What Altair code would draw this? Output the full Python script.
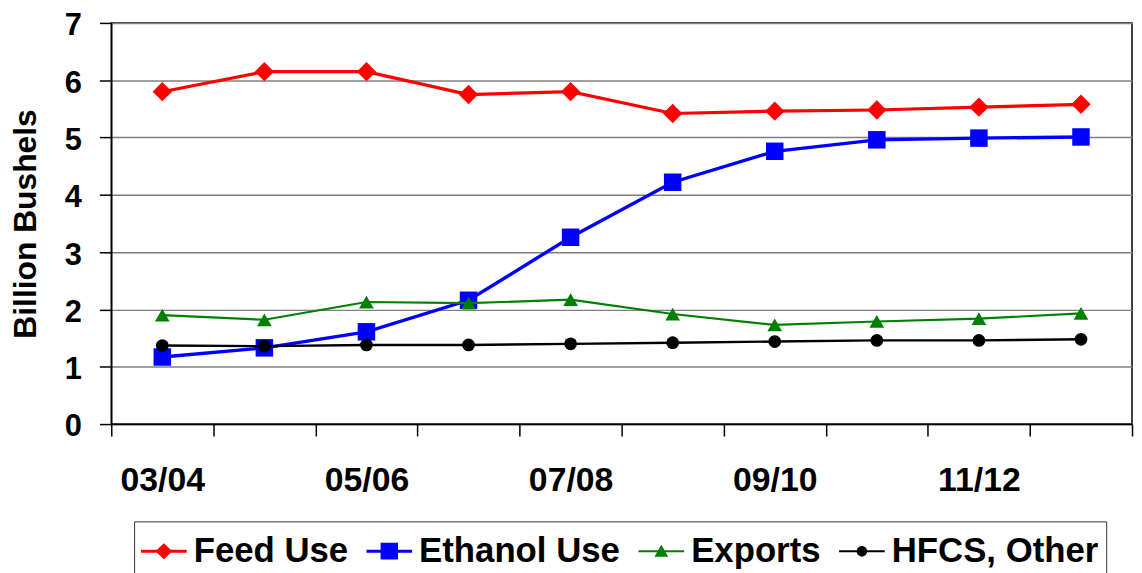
import json
import altair as alt
import pandas as pd

# ---- data ----
years = ["03/04", "04/05", "05/06", "06/07", "07/08", "08/09", "09/10", "10/11", "11/12", "12/13"]
shown_labels = ["03/04", "05/06", "07/08", "09/10", "11/12"]
series_names = ["Feed Use", "Ethanol Use", "Exports", "HFCS, Other"]
feed = [5.80, 6.15, 6.15, 5.75, 5.80, 5.42, 5.46, 5.48, 5.53, 5.58]
ethanol = [1.17, 1.33, 1.61, 2.16, 3.26, 4.22, 4.76, 4.96, 4.99, 5.01]
exports = [1.90, 1.82, 2.13, 2.11, 2.17, 1.92, 1.73, 1.79, 1.84, 1.93]
hfcs = [1.37, 1.36, 1.38, 1.38, 1.40, 1.42, 1.44, 1.46, 1.46, 1.48]
y_ticks = [0, 1, 2, 3, 4, 5, 6, 7]

# ---- styles ----
colors = ["#FF0000", "#0000FF", "#008000", "#000000"]
line_widths = [3.2, 3.4, 2.2, 2.4]
marker_shapes = ["diamond", "square", "triangle-up", "circle"]
marker_sizes = [380, 310, 220, 165]
legend_paths = [
    "M-1,-0.065H1V0.065H-1Z M0,-0.35L0.37,0L0,0.35L-0.37,0Z",
    "M-1,-0.065H1V0.065H-1Z M-0.38,-0.37H0.38V0.37H-0.38Z",
    "M-1,-0.045H1V0.045H-1Z M0,-0.28L0.3,0.24H-0.3Z",
    "M-1,-0.045H1V0.045H-1Z M0.23,0A0.23,0.23 0 1,1 -0.23,0A0.23,0.23 0 1,1 0.23,0Z",
]
FONT = "Liberation Sans"

rows = []
for name, vals in zip(series_names, [feed, ethanol, exports, hfcs]):
    for yr, v in zip(years, vals):
        rows.append({"year": yr, "series": name, "value": v})
df = pd.DataFrame(rows)

label_expr = "indexof(" + json.dumps(shown_labels) + ", datum.value) >= 0 ? datum.value : ''"

x_enc = alt.X(
    "year:N",
    sort=years,
    scale=alt.Scale(type="band", domain=years, paddingInner=0, paddingOuter=0),
    axis=alt.Axis(
        title=None, tickBand="extent", labelExpr=label_expr, labelAngle=0,
        labelFont=FONT, labelFontSize=34, labelFontWeight="bold", labelColor="black",
        labelPadding=28, tickSize=12, tickColor="black", tickWidth=1.5,
        domainColor="black", domainWidth=1.5, grid=False,
    ),
)
y_enc = alt.Y(
    "value:Q",
    scale=alt.Scale(domain=[0, 7], nice=False, zero=True),
    axis=alt.Axis(
        title="Billion Bushels", values=y_ticks, format="d",
        titleFont=FONT, titleFontSize=32, titleFontWeight="bold", titleColor="black",
        titlePadding=22,
        labelFont=FONT, labelFontSize=31, labelFontWeight="bold", labelColor="black",
        labelPadding=18, labelOffset=3, tickSize=12, tickColor="black", tickWidth=1.5,
        domainColor="black", domainWidth=1.5,
        grid=True, gridColor="#808080", gridWidth=1.5,
    ),
)

layers = []
for name, col, lw, shp, sz in zip(series_names, colors, line_widths, marker_shapes, marker_sizes):
    base = alt.Chart(df).transform_filter(alt.datum.series == name)
    layers.append(base.mark_line(color=col, strokeWidth=lw).encode(x=x_enc, y=y_enc))
    layers.append(
        base.mark_point(filled=True, opacity=1, shape=shp, size=sz, color=col).encode(x=x_enc, y=y_enc)
    )

leg = alt.Legend(
    title=None, orient="none", legendX=23, legendY=502, direction="horizontal",
    labelFont=FONT, labelFontSize=35, labelFontWeight="bold", labelColor="black",
    labelLimit=400, labelOffset=7, columnPadding=18, padding=7,
    symbolSize=2116, symbolStrokeWidth=0, strokeColor="#333333",
)
legend_layer = (
    alt.Chart(df)
    .transform_filter("false")
    .mark_point(filled=True, opacity=1)
    .encode(
        x=x_enc,
        y=y_enc,
        color=alt.Color("series:N", scale=alt.Scale(domain=series_names, range=colors), legend=leg),
        shape=alt.Shape("series:N", scale=alt.Scale(domain=series_names, range=legend_paths), legend=leg),
    )
)

chart = (
    alt.layer(*layers, legend_layer)
    .properties(
        width=1028, height=404,
        autosize=alt.AutoSizeParams(type="none"),
        padding={"left": 104, "top": 13, "right": 2, "bottom": 153},
        background="white",
    )
    .configure_view(stroke="black", strokeWidth=1.5)
)

chart.save("out.html", embed_options={"renderer": "svg", "actions": False})
